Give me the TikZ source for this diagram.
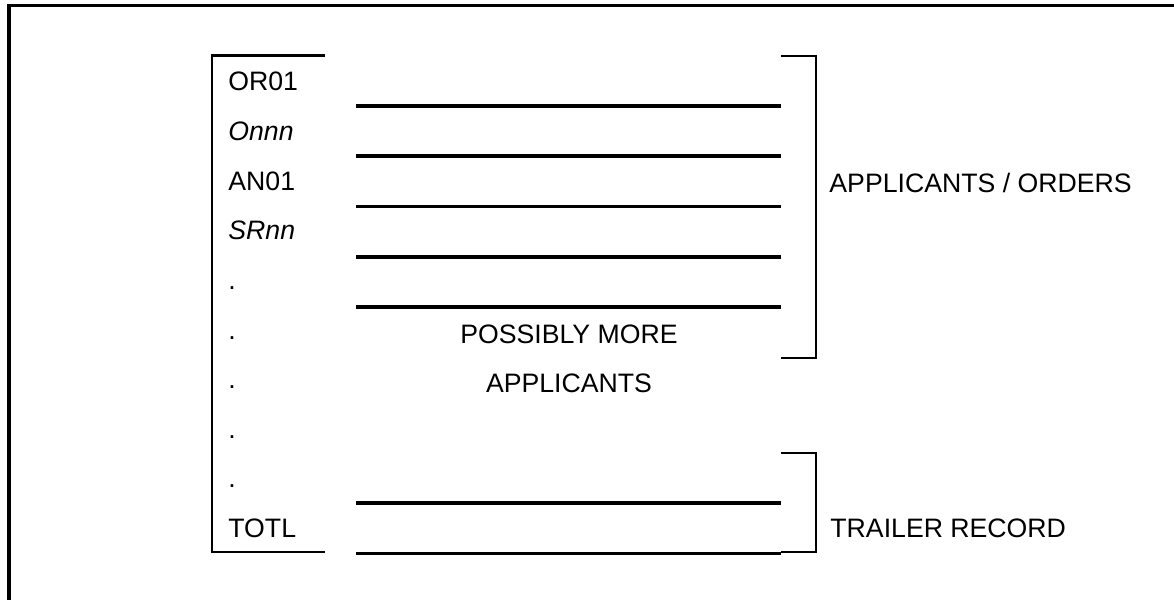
\documentclass[tikz,border=0pt]{standalone}
\usepackage{fontspec}
\setmainfont{Liberation Sans}

\tikzset{
  rule/.style={line width=1.9pt},
  brk/.style={line width=1pt},
  frm/.style={line width=1.5pt},
  rec/.style={anchor=base west, inner sep=0pt, font=\fontsize{12.8}{15}\selectfont},
  lbl/.style={anchor=base, inner sep=0pt, font=\fontsize{12.8}{15}\selectfont},
}

\begin{document}
\begin{tikzpicture}[x=0.48pt,y=-0.48pt]
\useasboundingbox (0,0) rectangle (1174,600);

% outer frame, only top and left edges
\draw[frm] (9,600) -- (9,5.5) -- (1174,5.5);

% record box on the left
\draw[brk] (325,55.5) -- (212,55.5) -- (212,551.7) -- (325,551.7);

% record codes
\node[rec] (or01) at (228,91) {OR01};
\node[rec] (onnn) at (228,140.6) {\itshape Onnn};
\node[rec] (an01) at (228,190.2) {AN01};
\node[rec] (srnn) at (228,239.8) {\itshape SRnn};
\node[rec] (dota) at (228,289.4) {.};
\node[rec] (dotb) at (228,339) {.};
\node[rec] (dotc) at (228,388.6) {.};
\node[rec] (dotd) at (228,438.2) {.};
\node[rec] (dote) at (228,487.8) {.};
\node[rec] (totl) at (228,537.4) {TOTL};

% entry lines
\draw[rule] (356,106) -- (781,106);
\draw[rule] (356,156) -- (781,156);
\draw[rule] (356,206.5) -- (781,206.5);
\draw[rule] (356,257) -- (781,257);
\draw[rule] (356,307) -- (781,307);
\draw[rule] (356,503) -- (781,503);
\draw[rule] (356,553.5) -- (781,553.5);

\node[lbl] (more) at (569,343) {POSSIBLY MORE};
\node[lbl] (appl) at (569,392) {APPLICANTS};

% brackets on the right
\draw[brk] (781,55.7) -- (816,55.7) -- (816,357.7) -- (781,357.7);
\draw[brk] (781,452.7) -- (816,452.7) -- (816,552) -- (781,552);

\node[rec] (orders) at (829,192) {APPLICANTS / ORDERS};
\node[rec] (trailer) at (830,537.5) {TRAILER RECORD};

\end{tikzpicture}
\end{document}
